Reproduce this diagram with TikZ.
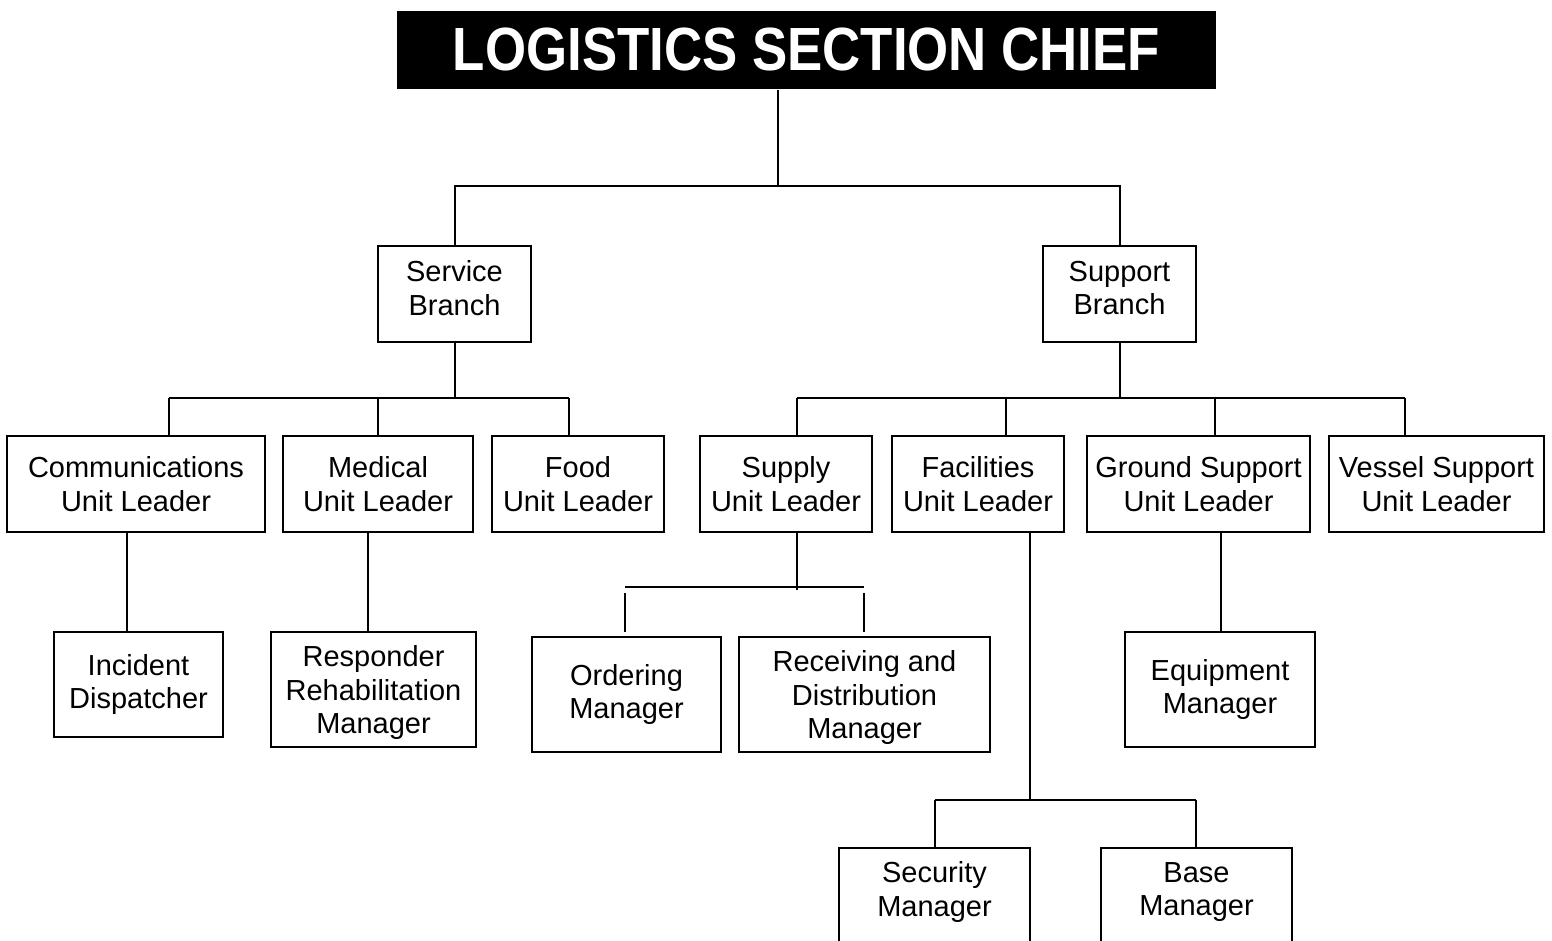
\documentclass[tikz,border=0pt]{standalone}
\usepackage{fontspec}
\setmainfont{Liberation Sans}
\usetikzlibrary{calc,positioning}

\begin{document}
\begin{tikzpicture}[x=1pt, y=-1pt, line width=2pt, font=\fontsize{29}{33.5}\selectfont]
  \tikzstyle{box}=[draw, rectangle, align=center, inner sep=0pt, minimum height=96pt]
  \tikzstyle{mgr}=[box, minimum height=115pt]
  \tikzstyle{chief}=[rectangle, fill=black, text=white, inner sep=0pt, minimum width=819pt, minimum height=78pt, font=\fontsize{61}{62}\selectfont\bfseries]

  \useasboundingbox (0,0) rectangle (1552,941);
  \clip (0,0) rectangle (1552,941);

  \node[chief] (LSC) at (806.5,50) {\scalebox{0.866}[1]{LOGISTICS SECTION CHIEF}};

  \node[box, minimum width=153pt, text depth=12pt] (SvB) at (454.5,294) {Service\\Branch};
  \node[box, minimum width=153pt, text depth=12pt] (SpB) at (1119.5,294) {Support\\Branch};

  % unit leaders
  \node[box, minimum width=258pt] (CmU) at (136,484) {Communications\\Unit Leader};
  \node[box, minimum width=190pt, right=16pt of CmU] (MdU) {Medical\\Unit Leader};
  \node[box, minimum width=172pt, right=17pt of MdU] (FdU) {Food\\Unit Leader};
  \node[box, minimum width=172pt, right=34pt of FdU] (SuU) {Supply\\Unit Leader};
  \node[box, minimum width=172pt, right=18pt of SuU] (FcU) {Facilities\\Unit Leader};
  \node[box, minimum width=223pt, right=21pt of FcU] (GsU) {Ground Support\\Unit Leader};
  \node[box, minimum width=215pt, right=17pt of GsU] (VsU) {Vessel Support\\Unit Leader};

  % managers
  \node[box, minimum width=169pt, minimum height=105pt] (IdM) at (138.5,684.5) {Incident\\Dispatcher};
  \node[mgr, minimum width=205pt, text depth=0pt] (RrM) at (373.5,689.5) {Responder\\Rehabilitation\\Manager};
  \node[mgr, minimum width=189pt] (OrM) at (626.5,694.5) {Ordering\\Manager};
  \node[mgr, minimum width=251pt, text depth=0pt] (RdM) at (864.5,694.5) {Receiving and\\Distribution\\Manager};
  \node[mgr, minimum width=190pt] (EqM) at (1220,689.5) {Equipment\\Manager};
  \node[box, minimum width=191pt, text depth=14pt] (ScM) at (934.5,896) {Security\\Manager};
  \node[box, minimum width=191pt, text depth=14pt] (BsM) at (1196.5,896) {Base\\Manager};

  % chief to branches
  \coordinate (jTop) at (778,186);
  \draw (LSC.south -| jTop) -- (jTop);
  \draw (SvB) |- (jTop) -| (SpB);

  % service branch
  \coordinate (jSv) at (454.5,398);
  \coordinate (dCm) at (169,398);
  \coordinate (dMd) at (378,398);
  \coordinate (dFd) at (569,398);
  \draw (SvB) -- (jSv);
  \draw (dCm) -- (dFd);
  \draw (dCm) -- (dCm |- CmU.north);
  \draw (dMd) -- (dMd |- MdU.north);
  \draw (dFd) -- (dFd |- FdU.north);

  % support branch
  \coordinate (jSp) at (1119.5,398);
  \coordinate (dSu) at (797,398);
  \coordinate (dFc) at (1006,398);
  \coordinate (dGs) at (1215,398);
  \coordinate (dVs) at (1405,398);
  \draw (SpB) -- (jSp);
  \draw (dSu) -- (dVs);
  \draw (dSu) -- (dSu |- SuU.north);
  \draw (dFc) -- (dFc |- FcU.north);
  \draw (dGs) -- (dGs |- GsU.north);
  \draw (dVs) -- (dVs |- VsU.north);

  % unit leaders to managers
  \coordinate (xId) at (127,0);
  \coordinate (xRr) at (368,0);
  \coordinate (xEq) at (1221,0);
  \draw (CmU.south -| xId) -- (IdM.north -| xId);
  \draw (MdU.south -| xRr) -- (RrM.north -| xRr);
  \draw (GsU.south -| xEq) -- (EqM.north -| xEq);

  \coordinate (jSu) at (797,590);
  \coordinate (oL) at (625,587);
  \coordinate (oR) at (864,587);
  \coordinate (oLtop) at (625,593);
  \coordinate (oRtop) at (864,593);
  \draw (SuU.south -| jSu) -- (jSu);
  \draw (oL) -- (oR);
  \draw (oLtop) -- (625,632);
  \draw (oRtop) -- (864,632);

  \coordinate (jFc) at (1030,800);
  \coordinate (dSc) at (935,800);
  \coordinate (dBs) at (1196,800);
  \draw (FcU.south -| jFc) -- (jFc);
  \draw (dSc) -- (dBs);
  \draw (dSc) -- (dSc |- ScM.north);
  \draw (dBs) -- (dBs |- BsM.north);
\end{tikzpicture}
\end{document}
